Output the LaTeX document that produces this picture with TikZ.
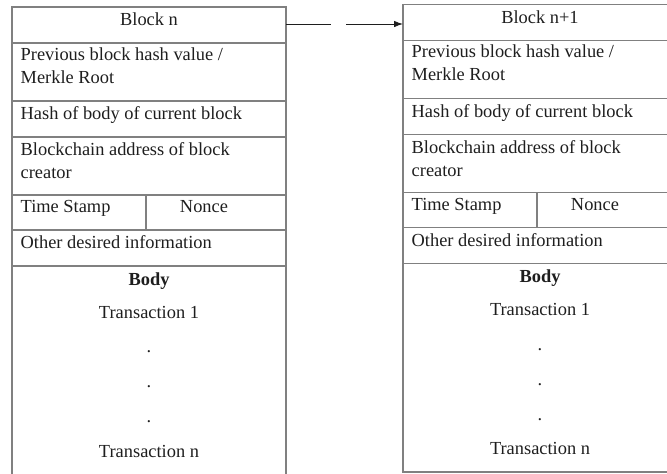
\documentclass[tikz,border=0pt]{standalone}
\usepackage{fontspec}
\setmainfont{Liberation Serif}
\usetikzlibrary{shapes,arrows.meta,positioning}
\definecolor{framegray}{RGB}{128,128,128}
\definecolor{inkgray}{RGB}{30,30,30}
\tikzset{
	cell/.style={draw=framegray, line width=1.1pt, rectangle, anchor=north west, minimum width=274pt, inner sep=0pt, outer sep=0pt},
	txt/.style={anchor=north west, inner sep=0pt, align=left, text=inkgray, font=\fontsize{18.4}{23}\selectfont},
	ctxt/.style={txt, anchor=north},
	dot/.style={txt, anchor=center},
}
\begin{document}
\begin{tikzpicture}[x=1pt,y=-1pt]
	\useasboundingbox (0,0) rectangle (667,474);
	\foreach \b/\x/\y/\bot/\ttl in {A/12/7/482/Block n, B/403/4.5/472/Block n+1}{
		\pgfmathsetmacro\bh{\bot-\y-259}
		\node[cell, minimum height=36pt] (hd\b) at (\x,\y) {};
		\node[cell, minimum height=58pt] (prev\b) at (hd\b.south west) {};
		\node[cell, minimum height=36pt] (hash\b) at (prev\b.south west) {};
		\node[cell, minimum height=58pt] (addr\b) at (hash\b.south west) {};
		\node[cell, minimum height=35pt] (ts\b) at (addr\b.south west) {};
		\node[cell, minimum height=36pt] (oth\b) at (ts\b.south west) {};
		\node[cell, minimum height=\bh pt] (body\b) at (oth\b.south west) {};
		\draw[draw=framegray, line width=1.1pt] ([xshift=134pt]ts\b.north west) -- ([xshift=134pt]ts\b.south west);
		\node[ctxt] (ttl\b) at ([yshift=-6pt]hd\b.north) {\ttl};
		\node[txt] (prevtxt\b) at ([xshift=8.5pt,yshift=-4.5pt]prev\b.north west) {Previous block hash value /\\Merkle Root};
		\node[txt] (hashtxt\b) at ([xshift=8.5pt,yshift=-5.5pt]hash\b.north west) {Hash of body of current block};
		\node[txt] (addrtxt\b) at ([xshift=8.5pt,yshift=-5.5pt]addr\b.north west) {Blockchain address of block\\creator};
		\node[txt] (time\b) at ([xshift=8.5pt,yshift=-5.5pt]ts\b.north west) {Time Stamp};
		\node[ctxt] (nonce\b) at ([xshift=192pt,yshift=-5.5pt]ts\b.north west) {Nonce};
		\node[txt] (othtxt\b) at ([xshift=8.5pt,yshift=-5.5pt]oth\b.north west) {Other desired information};
		\node[ctxt] (bodytxt\b) at ([yshift=-6.5pt]body\b.north) {\textbf{Body}};
		\node[ctxt] (tfirst\b) at ([yshift=-40pt]body\b.north) {Transaction 1};
		\node[dot] (dota\b) at ([yshift=-86pt]body\b.north) {.};
		\node[dot] (dotb\b) at ([yshift=-121pt]body\b.north) {.};
		\node[dot] (dotc\b) at ([yshift=-156pt]body\b.north) {.};
		\node[ctxt] (tlast\b) at ([yshift=-179pt]body\b.north) {Transaction n};
	}
	\coordinate (gapL) at (331,24);
	\coordinate (gapR) at (346,24);
	\draw[inkgray, line width=0.8pt] (hdA.east |- gapL) -- (gapL);
	\draw[inkgray, line width=0.8pt, -{Latex[length=9pt,width=6.5pt]}] (gapR) -- (gapR -| hdB.west);
\end{tikzpicture}
\end{document}
